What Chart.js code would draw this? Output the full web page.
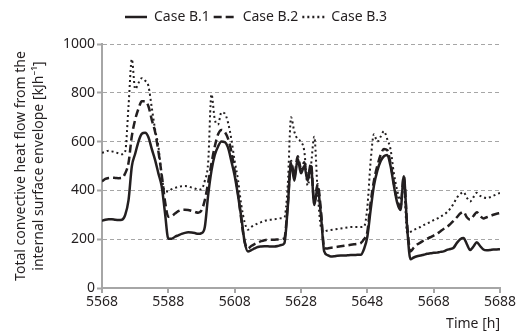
<!DOCTYPE html>
<html>
<head>
<meta charset="utf-8">
<script src="https://cdn.jsdelivr.net/npm/chart.js@4"></script>
<style>
html,body{margin:0;padding:0;background:#fff}
#wrap{width:519px;height:334px}
</style>
</head>
<body>
<div id="wrap"><canvas id="c" width="519" height="334"></canvas></div>
<script>
// hourly time steps 5568..5688
let hours = []
for(let h=5568;h<=5688;h++){ hours.push(h) }

let caseB1 = [
275,280,282,282,280,279,280,300,360,499,550,600,632,636,618,570,525,470,417,307,
202,202,210,216,222,226,228,227,225,222,225,250,380,480,545,580,600,598,575,520,
460,380,290,190,150,155,162,168,170,171,171,170,170,172,176,184,330,510,440,530,
470,500,440,500,340,410,300,150,135,129,130,132,133,133,134,135,135,136,136,160,
210,320,420,480,520,540,545,500,420,350,320,458,250,118,125,130,133,136,140,142,
144,145,148,150,156,160,165,185,200,205,180,156,170,188,172,158,155,156,158,158,
159]

let caseB2 = [
437,447,451,452,451,450,451,470,513,623,690,735,765,765,745,690,640,560,465,355,
292,295,305,315,320,321,320,316,312,308,318,360,431,510,580,630,648,640,612,560,
480,390,280,190,162,172,180,186,192,196,198,198,198,199,200,205,340,520,460,540,
490,515,450,510,350,425,320,165,162,165,167,169,171,173,175,177,179,181,184,200,
230,350,440,500,545,570,565,510,430,360,335,458,260,150,165,178,186,195,202,208,
215,222,232,242,250,262,275,290,305,312,290,280,295,310,295,285,290,295,300,304,
307]

let caseB3 = [
554,558,563,560,556,552,548,560,746,938,815,840,860,850,828,740,650,581,458,396,
396,405,410,414,417,418,416,412,408,403,405,440,513,794,691,670,720,715,678,610,
520,444,340,270,239,250,258,265,270,275,279,280,282,284,286,290,420,700,640,610,
600,560,420,500,620,400,250,232,236,238,240,242,244,246,248,250,250,250,250,252,
330,520,630,600,620,643,610,568,470,400,360,420,225,230,238,244,250,258,265,270,
278,284,292,300,310,325,345,370,385,393,370,355,372,390,378,372,368,372,378,384,
390]

let seriesNames = ["Case B.1","Case B.2","Case B.3"]
let xTicks = [5568,5588,5608,5628,5648,5668,5688]

let ink = "#231f20"
let axisGray = "#a6a6a6"
let fontFam = "'Noto Sans', sans-serif"

function pts(vals){
  return vals.map((v,i)=>({x:hours[i],y:v}))
}

// push the plot down a bit under the legend
let legendGap = {
  id:"legendGap",
  beforeInit(chart){
    let fit = chart.legend.fit
    chart.legend.fit = function(){
      fit.bind(chart.legend)()
      this.height += 10
    }
  }
}

let chart = new Chart(document.getElementById("c"),{
  type:"line",
  data:{
    datasets:[
      {label:seriesNames[0],data:pts(caseB1),borderColor:ink,borderWidth:2.5,borderDash:[],pointRadius:0,pointStyle:"line",cubicInterpolationMode:"monotone"},
      {label:seriesNames[1],data:pts(caseB2),borderColor:ink,borderWidth:2.5,borderDash:[8,4],pointRadius:0,pointStyle:"line",cubicInterpolationMode:"monotone"},
      {label:seriesNames[2],data:pts(caseB3),borderColor:ink,borderWidth:2,borderDash:[2,3],pointRadius:0,pointStyle:"line",cubicInterpolationMode:"monotone"}
    ]
  },
  plugins:[legendGap],
  options:{
    responsive:false,
    animation:false,
    layout:{padding:{left:12,right:19,top:6,bottom:2}},
    plugins:{
      tooltip:{enabled:false},
      legend:{
        position:"top",
        labels:{
          usePointStyle:true,
          pointStyleWidth:22,
          boxHeight:8,
          color:ink,
          padding:4,
          font:{family:fontFam,size:14},
          generateLabels:(ch)=>{
            let items = Chart.defaults.plugins.legend.labels.generateLabels(ch)
            items.forEach((it,i)=>{
              it.lineDash = ch.data.datasets[i].borderDash
              it.lineWidth = 2.5
              it.strokeStyle = ink
            })
            return items
          }
        }
      }
    },
    scales:{
      x:{
        type:"linear",
        min:5568,max:5688,
        afterBuildTicks:(s)=>{ s.ticks = xTicks.map(v=>({value:v})) },
        grid:{drawOnChartArea:false,drawTicks:true,tickLength:5,color:axisGray,lineWidth:2},
        border:{color:axisGray,width:2},
        ticks:{color:ink,font:{family:fontFam,size:14},padding:1,maxRotation:0,callback:(v)=>String(v)},
        title:{display:true,text:"Time [h]",align:"end",color:ink,font:{family:fontFam,size:14},padding:{top:0,bottom:0}},
        afterFit:(s)=>{ s.height = 44 }
      },
      y:{
        min:0,max:1000,
        ticks:{stepSize:200,color:ink,font:{family:fontFam,size:14},padding:2,callback:(v)=>String(v)},
        grid:{color:"#a6a6a6",lineWidth:1,tickLength:5,tickColor:axisGray,tickWidth:2,tickBorderDash:[]},
        border:{color:axisGray,width:2,dash:[4,3]},
        title:{display:true,text:["Total convective heat flow from the","internal surface envelope [kJh\u207B\u00B9]"],color:ink,font:{family:fontFam,size:14,lineHeight:1.3},padding:{top:0,bottom:4}},
        afterFit:(s)=>{ s.width = 90 }
      }
    }
  }
})
</script>
</body>
</html>
